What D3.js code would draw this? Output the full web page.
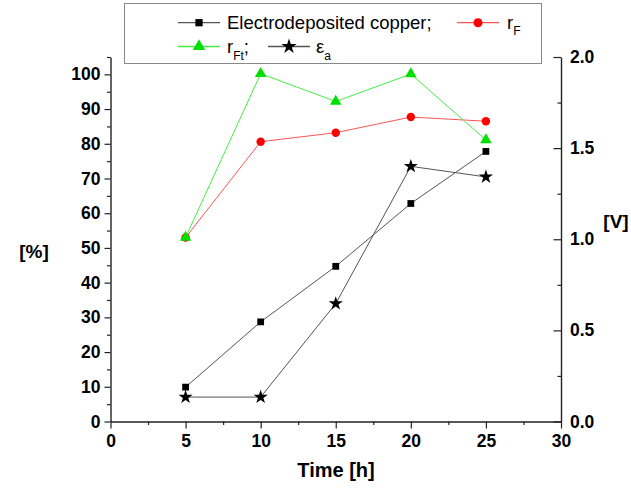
<!DOCTYPE html>
<html>
<head>
<meta charset="utf-8">
<script src="https://d3js.org/d3.v7.min.js"></script>
<style>
  html, body { margin: 0; padding: 0; background: #fff; }
  svg { display: block; font-family: "Liberation Sans", Arial, sans-serif; }
</style>
</head>
<body>
<svg id="chart" width="631" height="488"></svg>
<script>
// Deposition time [h]
const time = [5, 10, 15, 20, 25];
// Percent series (left axis)
const copper = [9.9, 28.7, 44.7, 62.8, 77.8];
const rF = [53.0, 80.6, 83.2, 87.7, 86.5];
const rFt = [53.0, 100.2, 92.2, 100.1, 81.1];
// Voltage series (right axis)
const epsA = [0.134, 0.134, 0.647, 1.40, 1.342];

const xTicks = [0, 5, 10, 15, 20, 25, 30];
const xMinor = [2.5, 7.5, 12.5, 17.5, 22.5, 27.5];
const yTicks = [0, 10, 20, 30, 40, 50, 60, 70, 80, 90, 100];
const yMinor = [5, 15, 25, 35, 45, 55, 65, 75, 85, 95, 105];
const vTicks = [0.0, 0.5, 1.0, 1.5, 2.0];
const vMinor = [0.25, 0.75, 1.25, 1.75];

const svg = d3.select("#chart");
const plotLeft = 110.5, plotRight = 561, plotTop = 57, plotBottom = 421.5;

const x = d3.scaleLinear().domain([0, 30]).range([plotLeft, plotRight]);
const y = d3.scaleLinear().domain([0, 105]).range([plotBottom, plotTop]);
const v = d3.scaleLinear().domain([0, 2]).range([plotBottom, plotTop]);

const axisColor = "#222";

function styleAxis(g) {
  g.select(".domain").attr("stroke", axisColor).attr("stroke-width", 1.4);
  g.selectAll(".tick line").attr("stroke", axisColor).attr("stroke-width", 1.2);
  g.selectAll(".tick text")
    .attr("font-family", "'Liberation Sans', Arial, sans-serif")
    .attr("font-size", 17.5).attr("font-weight", "bold").attr("fill", "#000");
}
function styleMinor(g) {
  g.select(".domain").remove();
  g.selectAll("line").attr("stroke", axisColor).attr("stroke-width", 1.2);
}

// minor ticks first so the major axes draw on top
svg.append("g").attr("transform", `translate(0,${plotBottom})`)
  .call(d3.axisBottom(x).tickValues(xMinor).tickSize(3.5).tickFormat(""))
  .call(styleMinor);
svg.append("g").attr("transform", `translate(${plotLeft},0)`)
  .call(d3.axisLeft(y).tickValues(yMinor).tickSize(3.5).tickFormat(""))
  .call(styleMinor);
svg.append("g").attr("transform", `translate(${plotRight},0)`)
  .call(d3.axisRight(v).tickValues(vMinor).tickSize(-3.5).tickFormat(""))
  .call(styleMinor);

svg.append("g").attr("transform", `translate(0,${plotBottom})`)
  .call(d3.axisBottom(x).tickValues(xTicks).tickSize(7).tickSizeOuter(0).tickPadding(6).tickFormat(d3.format("d")))
  .call(styleAxis);
svg.append("g").attr("transform", `translate(${plotLeft},0)`)
  .call(d3.axisLeft(y).tickValues(yTicks).tickSize(6).tickSizeOuter(0).tickPadding(4).tickFormat(d3.format("d")))
  .call(styleAxis);
svg.append("g").attr("transform", `translate(${plotRight},0)`)
  .call(d3.axisRight(v).tickValues(vTicks).tickSize(-7.5).tickSizeOuter(0).tickPadding(9).tickFormat(d3.format(".1f")))
  .call(styleAxis);

// axis titles
svg.append("text").attr("x", 336).attr("y", 477).attr("text-anchor", "middle")
  .attr("font-size", 20).attr("font-weight", "bold").text("Time [h]");
svg.append("text").attr("x", 34).attr("y", 258).attr("text-anchor", "middle")
  .attr("font-size", 19).attr("font-weight", "bold").text("[%]");
svg.append("text").attr("x", 616).attr("y", 228).attr("text-anchor", "middle")
  .attr("font-size", 19).attr("font-weight", "bold").text("[V]");

// series definitions
const series = [
  { values: copper, scale: y, line: "#555", fill: "#000", symbol: d3.symbolSquare, size: 46 },
  { values: rF, scale: y, line: "#f55", fill: "#f00", symbol: d3.symbolCircle, size: 56 },
  { values: rFt, scale: y, line: "#44ee44", fill: "#00e000", symbol: d3.symbolTriangle, size: 58 },
  { values: epsA, scale: v, line: "#555", fill: "#000", symbol: d3.symbolStar, size: 62 }
];

const plot = svg.append("g");
series.forEach(s => {
  const pts = time.map((t, i) => [t, s.values[i]]);
  plot.append("path")
    .attr("d", d3.line().x(d => x(d[0])).y(d => s.scale(d[1]))(pts))
    .attr("fill", "none").attr("stroke", s.line).attr("stroke-width", 1);
  plot.selectAll(null).data(pts).join("path")
    .attr("transform", d => `translate(${x(d[0])},${s.scale(d[1])})`)
    .attr("d", d3.symbol().type(s.symbol).size(s.size))
    .attr("fill", s.fill);
});

// legend
const lg = svg.append("g");
lg.append("rect").attr("x", 124.5).attr("y", 3.5).attr("width", 417).attr("height", 60)
  .attr("fill", "#fff").attr("stroke", "#888").attr("stroke-width", 1);

function legendItem(x0, cy, s) {
  lg.append("line").attr("x1", x0).attr("x2", x0 + 42).attr("y1", cy).attr("y2", cy)
    .attr("stroke", s.line).attr("stroke-width", 1.3);
  lg.append("path").attr("transform", `translate(${x0 + 21},${cy})`)
    .attr("d", d3.symbol().type(s.symbol).size(s.size * 1.15)).attr("fill", s.fill);
}
legendItem(178, 22.7, series[0]);
legendItem(457, 22.7, series[1]);
legendItem(178, 46.5, series[2]);
legendItem(268, 46.5, series[3]);

lg.append("text").attr("x", 227).attr("y", 28.5).attr("font-size", 18.5).text("Electrodeposited copper;");
const t1 = lg.append("text").attr("x", 507).attr("y", 28.5).attr("font-size", 18.5);
t1.append("tspan").text("r");
t1.append("tspan").attr("font-size", 12).attr("dy", 6).text("F");

const t2 = lg.append("text").attr("x", 227).attr("y", 52.7).attr("font-size", 18.5);
t2.append("tspan").text("r");
t2.append("tspan").attr("font-size", 12).attr("dy", 7).text("Ft");
t2.append("tspan").attr("dy", -7).text(";");

const t3 = lg.append("text").attr("x", 316).attr("y", 52.7).attr("font-size", 18.5);
t3.append("tspan").text("ε");
t3.append("tspan").attr("font-size", 12).attr("dy", 7).text("a");
</script>
</body>
</html>
